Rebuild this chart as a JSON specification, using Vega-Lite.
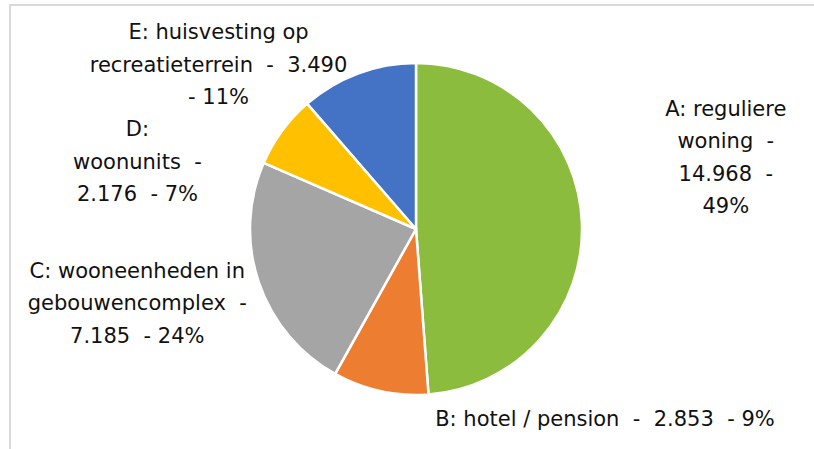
{
  "$schema": "https://vega.github.io/schema/vega-lite/v6.json",
  "width": 814,
  "height": 449,
  "autosize": {"type": "fit", "contains": "padding"},
  "padding": {"left": 10, "top": 5, "right": -8, "bottom": -4},
  "background": "white",
  "view": {"stroke": "#d9d9d9", "strokeWidth": 2},
  "config": {"view": {"stroke": "#d9d9d9", "strokeWidth": 2}},
  "data": {
    "values": [
      {"cat": "A", "value": 14968, "label": ["A: reguliere", "woning \u00a0-", "14.968 \u00a0-", "49%"]},
      {"cat": "B", "value": 2853, "label": "B: hotel / pension \u00a0- \u00a02.853 \u00a0- 9%"},
      {"cat": "C", "value": 7185, "label": ["C: wooneenheden in", "gebouwencomplex \u00a0-", "7.185 \u00a0- 24%"]},
      {"cat": "D", "value": 2176, "label": ["D:", "woonunits \u00a0-", "2.176 \u00a0- 7%"]},
      {"cat": "E", "value": 3490, "label": ["E: huisvesting op", "recreatieterrein \u00a0- \u00a03.490", "- 11%"]}
    ]
  },
  "transform": [
    {"window": [{"op": "sum", "field": "value", "as": "cum"}], "sort": [{"field": "cat"}], "frame": [null, 0]},
    {"calculate": "datum.cum - datum.value / 2", "as": "mid"}
  ],
  "layer": [
    {
      "mark": {"type": "arc", "outerRadius": 166, "stroke": "white", "strokeWidth": 2.5},
      "encoding": {
        "theta": {"field": "value", "type": "quantitative", "stack": true, "scale": {"domain": [0, 30672]}},
        "color": {"field": "cat", "type": "nominal", "legend": null,
          "scale": {"domain": ["A", "B", "C", "D", "E"], "range": ["#8CBC3D", "#ED7D31", "#A5A5A5", "#FFC000", "#4472C4"]}},
        "order": {"field": "cat", "type": "nominal"}
      }
    },
    {
      "transform": [{"filter": "datum.cat == 'A'"}],
      "mark": {"type": "text", "radius": 300, "dx": 10, "dy": -108, "align": "center", "baseline": "middle", "fontSize": 21, "lineHeight": 32.5, "font": "DejaVu Sans", "color": "#111111"},
      "encoding": {"theta": {"field": "mid", "type": "quantitative"}, "text": {"field": "label"}}
    },
    {
      "transform": [{"filter": "datum.cat == 'B'"}],
      "mark": {"type": "text", "radius": 200, "dx": 232, "dy": -4, "align": "center", "baseline": "middle", "fontSize": 21, "lineHeight": 32.5, "font": "DejaVu Sans", "color": "#111111"},
      "encoding": {"theta": {"field": "mid", "type": "quantitative"}, "text": {"field": "label"}}
    },
    {
      "transform": [{"filter": "datum.cat == 'C'"}],
      "mark": {"type": "text", "radius": 290, "dx": -4, "dy": -50, "align": "center", "baseline": "middle", "fontSize": 21, "lineHeight": 32.5, "font": "DejaVu Sans", "color": "#111111"},
      "encoding": {"theta": {"field": "mid", "type": "quantitative"}, "text": {"field": "label"}}
    },
    {
      "transform": [{"filter": "datum.cat == 'D'"}],
      "mark": {"type": "text", "radius": 250, "dx": -77, "dy": 49, "align": "center", "baseline": "middle", "fontSize": 21, "lineHeight": 32.5, "font": "DejaVu Sans", "color": "#111111"},
      "encoding": {"theta": {"field": "mid", "type": "quantitative"}, "text": {"field": "label"}}
    },
    {
      "transform": [{"filter": "datum.cat == 'E'"}],
      "mark": {"type": "text", "radius": 190, "dx": -131, "dy": -18, "align": "center", "baseline": "middle", "fontSize": 21, "lineHeight": 32.5, "font": "DejaVu Sans", "color": "#111111"},
      "encoding": {"theta": {"field": "mid", "type": "quantitative"}, "text": {"field": "label"}}
    }
  ]
}
